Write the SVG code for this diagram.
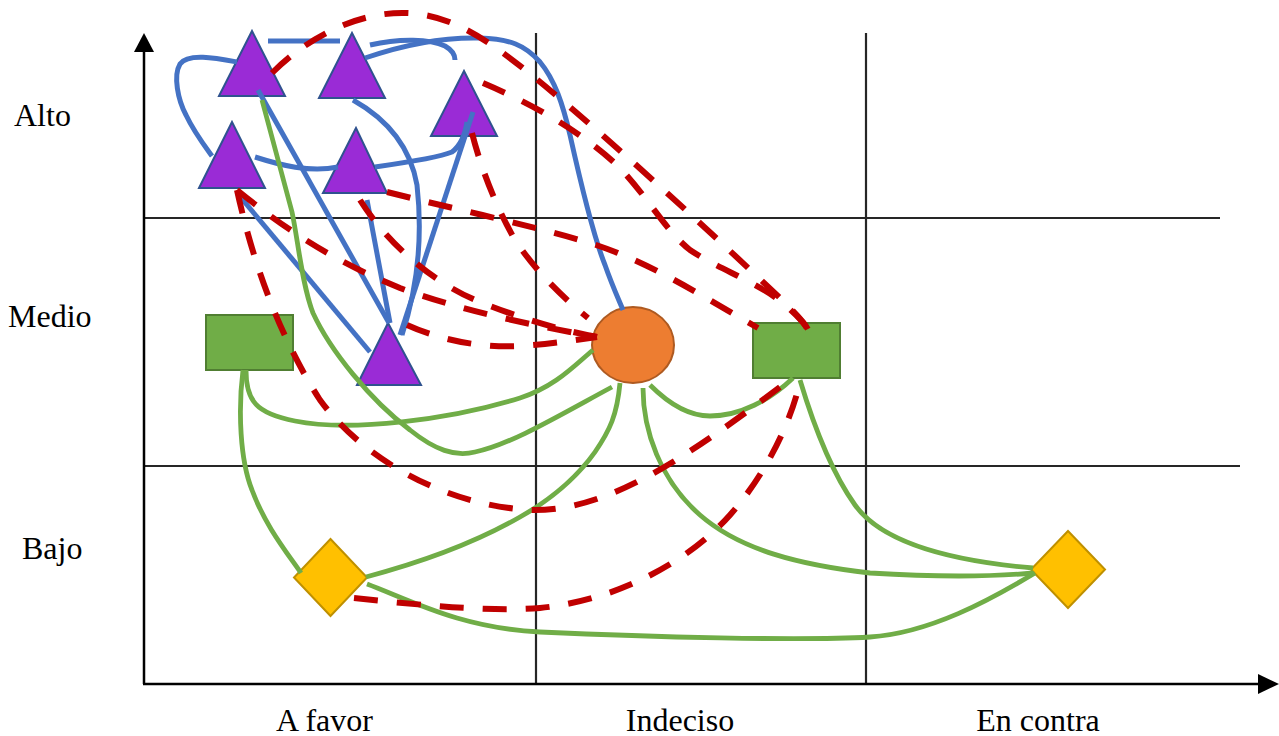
<svg xmlns="http://www.w3.org/2000/svg" width="1279" height="736" viewBox="0 0 1279 736">
<style>
.lbl{font-family:"Liberation Serif","Times New Roman",serif;font-size:32px;fill:#000}
.grid{stroke:#262626;stroke-width:2.2;fill:none}
.axis{stroke:#000;stroke-width:2.5;fill:none}
.tri{fill:#9A2BD6;stroke:#2F528F;stroke-width:2}
.rect{fill:#70AD47;stroke:#507E32;stroke-width:2}
.circ{fill:#ED7D31;stroke:#AE5A21;stroke-width:2}
.dia{fill:#FFC000;stroke:#BF9000;stroke-width:2}
.b{stroke:#4472C4;stroke-width:5;fill:none}
.g{stroke:#70AD47;stroke-width:4.8;fill:none}
.r{stroke:#C00000;stroke-width:6;fill:none;stroke-dasharray:24 19}
</style>
<rect width="1279" height="736" fill="#fff"/>
<g id="grid">
<line class="grid" x1="536" y1="33" x2="536" y2="684"/>
<line class="grid" x1="866" y1="33" x2="866" y2="684"/>
<line class="grid" x1="144" y1="218" x2="1220" y2="218"/>
<line class="grid" x1="144" y1="466" x2="1240" y2="466"/>
</g>
<g id="axes">
<line class="axis" x1="144" y1="684" x2="144" y2="50"/>
<polygon points="144,33 134,52 154,52" fill="#000"/>
<line class="axis" x1="143" y1="684" x2="1260" y2="684"/>
<polygon points="1279,684 1258,674 1258,694" fill="#000"/>
</g>
<g id="labels">
<text class="lbl" x="14" y="126">Alto</text>
<text class="lbl" x="8" y="327">Medio</text>
<text class="lbl" x="22" y="559">Bajo</text>
<text class="lbl" x="324.5" y="731" text-anchor="middle">A favor</text>
<text class="lbl" x="680" y="731" text-anchor="middle">Indeciso</text>
<text class="lbl" x="1038" y="731" text-anchor="middle">En contra</text>
</g>
<g id="t1"><polygon class="tri" points="252,31 219,96 285,96"/></g>
<g id="t2"><polygon class="tri" points="352,33 319,98 385,98"/></g>
<g id="t3"><polygon class="tri" points="464,71 431,136 497,136"/></g>
<g id="t4"><polygon class="tri" points="232,122 199,188 265,188"/></g>
<g id="t5"><polygon class="tri" points="356,128 323,193 387,193"/></g>
<g id="t6"><polygon class="tri" points="388,323 357,385 421,385"/></g>
<g id="rect1"><rect class="rect" x="206" y="315" width="87" height="55"/></g>
<g id="rect2"><rect class="rect" x="753" y="323" width="87" height="55"/></g>
<g id="circle"><ellipse class="circ" cx="633" cy="345" rx="41" ry="38"/></g>
<g id="dia1"><polygon class="dia" points="330.5,539 367,577.5 330.5,616 294,577.5"/></g>
<g id="dia2"><polygon class="dia" points="1068,531 1105,569.5 1068,608 1031,569.5"/></g>
<g id="connectors">
<path class="b" d="M268,41 L340,41"/>
<path class="b" d="M237,62 C215,58 188,53 180,64 C173,76 178,100 186,115 C194,132 204,145 212,156"/>
<path class="b" d="M365,58 C400,46 440,37 480,38 C510,39 525,45 540,62 C555,80 563,105 570,135 C580,180 595,240 605,265 C612,285 618,298 623,310"/>
<path class="b" d="M370,45 C400,38 430,39 445,46 C452,50 455,55 455,60"/>
<path class="b" d="M255,157 C280,165 310,173 338,167"/>
<path class="b" d="M375,167 C410,162 440,157 452,152 C460,146 465,135 467,122"/>
<path class="b" d="M473,112 L400,335"/>
<path class="b" d="M353,100 C385,118 410,145 417,185 C422,230 420,280 402,335"/>
<path class="b" d="M258,90 L389,323"/>
<path class="b" d="M237,193 L370,352"/>
<path class="b" d="M367,200 L390,323"/>
<path class="g" d="M262,100 L292,212 C298,240 302,285 313,313 C330,350 370,400 410,430 C435,450 455,457 475,452 C510,445 560,415 612,387"/>
<path class="g" d="M246,370 C246,400 255,413 295,421 C350,432 450,420 520,398 C555,387 575,365 593,350"/>
<path class="g" d="M243,370 C238,410 240,460 252,490 C265,525 285,550 301,573"/>
<path class="g" d="M620,383 C617,415 610,430 595,452 C575,480 550,500 520,517 C480,540 430,560 366,577"/>
<path class="g" d="M643,388 C643,430 660,480 700,515 C740,550 800,565 870,573 C950,578 1000,576 1033,573"/>
<path class="g" d="M800,380 C812,420 830,470 855,505 C880,540 940,560 1033,568"/>
<path class="g" d="M367,584 C410,600 460,628 540,632 C650,637 800,641 870,637 C930,633 990,600 1035,573"/>
<path class="g" d="M650,385 C670,405 690,416 710,416 C740,416 770,400 793,378"/>
<path class="r" d="M272,73 C310,35 360,12 405,13 C455,14 495,45 545,86 C610,140 700,222 780,298 C800,318 808,326 810,335"/>
<path class="r" d="M483,83 C530,103 580,130 620,168 C650,200 665,230 690,250 C720,270 760,283 785,305 C800,318 808,327 810,335"/>
<path class="r" d="M472,133 C480,165 495,205 515,240 C535,270 560,295 588,318"/>
<path class="r" d="M387,192 C450,208 530,225 590,243 C650,262 700,295 758,328"/>
<path class="r" d="M237,190 C280,225 330,260 400,288 C460,310 530,325 597,337"/>
<path class="r" d="M237,190 C250,250 275,330 320,400 C360,455 440,505 530,510 C610,512 690,455 792,378"/>
<path class="r" d="M360,200 C385,240 430,282 480,302 C520,318 560,330 597,337"/>
<path class="r" d="M407,325 C440,340 480,348 520,346 C550,344 575,340 597,337"/>
<path class="r" d="M354,598 C420,605 490,612 540,608 C620,600 690,560 730,515 C765,475 790,425 800,382"/>
</g>
</svg>
